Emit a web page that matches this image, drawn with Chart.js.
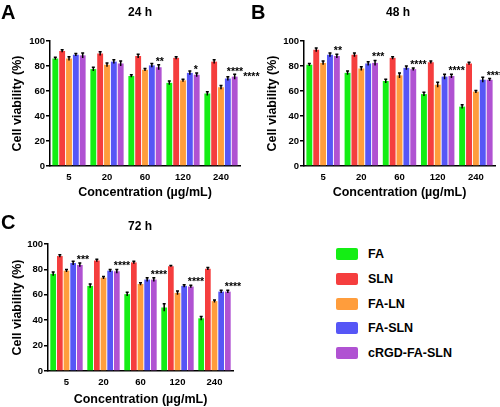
<!DOCTYPE html>
<html>
<head>
<meta charset="utf-8">
<script src="https://cdn.jsdelivr.net/npm/chart.js@4.4.0/dist/chart.umd.min.js"></script>
<style>
  body { margin: 0; background: #fff; font-family: "Liberation Sans", Arial, sans-serif; }
  #wrap { position: relative; width: 500px; height: 407px; overflow: hidden; }
  canvas { position: absolute; }
  .panel { position: absolute; font-weight: bold; font-size: 20px; color: #000; }
  .ttl { position: absolute; font-weight: bold; font-size: 12px; color: #000; transform: translate(-50%, -50%); white-space: nowrap; }
  .lg { position: absolute; left: 336px; width: 22px; height: 12px; border-radius: 2px; }
  .lgt { position: absolute; left: 368px; font-weight: bold; font-size: 12.5px; color: #000; transform: translateY(-50%); }
</style>
</head>
<body>
<div id="wrap">
  <canvas id="c72" width="250" height="207" style="left:0;top:200px"></canvas>
  <canvas id="c48" width="250" height="200" style="left:250px;top:0"></canvas>
  <canvas id="c24" width="260" height="200" style="left:0;top:0"></canvas>
  <div class="panel" style="left:1px;top:1px">A</div>
  <div class="panel" style="left:251px;top:1px">B</div>
  <div class="panel" style="left:1px;top:211px">C</div>
  <div class="ttl" style="left:140px;top:12px">24 h</div>
  <div class="ttl" style="left:398px;top:12px">48 h</div>
  <div class="ttl" style="left:140px;top:226px">72 h</div>
  <div id="legend"></div>
</div>
<script>
const labels = ["5", "20", "60", "120", "240"];
const series = ["FA", "SLN", "FA-LN", "FA-SLN", "cRGD-FA-SLN"];
const colors = ["#14ee14", "#f53e3e", "#ff9d3c", "#5656f6", "#b052d2"];

// rows follow series order
const values24 = [
  [86, 77.5, 72, 66.5, 58],
  [92, 90, 88, 86.5, 83.5],
  [86, 81, 77, 68.5, 63],
  [89, 83.5, 80.5, 74.5, 70],
  [88.5, 82, 79, 73, 71.5]
];
const errors24 = [
  [1, 1.5, 1, 1.5, 1.5],
  [1, 1.5, 1.5, 1, 1.5],
  [1.5, 1.5, 1, 1, 1.5],
  [1, 1.5, 1.5, 1.5, 1.5],
  [2, 2, 2, 1.5, 2]
];
const stars24 = ["", "", "**", "*", "****"];
const starsFASLN24 = ["", "", "", "", "****"];

const values48 = [
  [81, 74.5, 68, 57.5, 47.5],
  [93, 89, 86.5, 83, 82],
  [82.5, 78, 72.5, 65, 59.5],
  [89, 82, 78.5, 71.5, 69],
  [88, 82.5, 77.5, 72, 69]
];
const errors48 = [
  [1, 1.5, 1.5, 1.5, 1.5],
  [1.5, 1.5, 1, 1, 1],
  [1.5, 1.5, 2, 2, 1],
  [1.5, 1.5, 1.5, 2, 2],
  [1.5, 2, 1, 1.5, 1]
];
const stars48 = ["**", "***", "****", "****", "****"];
const starsFASLN48 = ["", "", "", "", ""];

const values72 = [
  [76.5, 67, 60.5, 50, 41.5],
  [90.5, 87, 85.5, 82.5, 80.5],
  [79, 73.5, 68.5, 61.5, 55],
  [85, 79, 72, 67, 62.5],
  [83.5, 78.5, 72, 66.5, 62.5]
];
const errors72 = [
  [1.5, 1.5, 1.5, 3, 1.5],
  [1, 1, 1, 0.5, 1],
  [1, 1, 1, 1.5, 1],
  [1.5, 1, 1.5, 1, 1],
  [1.5, 1.5, 1.5, 1, 1]
];
const stars72 = ["***", "****", "****", "****", "****"];
const starsFASLN72 = ["", "", "", "", ""];

const yTicks = [0, 20, 40, 60, 80, 100];

const FONT = "'Liberation Sans', Arial, sans-serif";

// error bars + significance marks
const barExtras = {
  id: "barExtras",
  afterDatasetsDraw(chart, args, opts) {
    const ctx = chart.ctx;
    const ys = chart.scales.y;
    ctx.save();
    ctx.strokeStyle = "#000";
    ctx.lineWidth = 1.5;
    const tops = [];
    chart.data.datasets.forEach((ds, i) => {
      const meta = chart.getDatasetMeta(i);
      tops[i] = [];
      meta.data.forEach((bar, j) => {
        const hi = ys.getPixelForValue(ds.data[j] + ds.errors[j]);
        const lo = ys.getPixelForValue(ds.data[j] - ds.errors[j]);
        tops[i][j] = { x: bar.x, y: hi };
        ctx.beginPath();
        ctx.moveTo(bar.x, lo);
        ctx.lineTo(bar.x, hi);
        ctx.moveTo(bar.x - 1.5, hi);
        ctx.lineTo(bar.x + 1.5, hi);
        ctx.stroke();
      });
    });
    ctx.fillStyle = "#000";
    ctx.font = "bold 10.5px " + FONT;
    ctx.textAlign = "left";
    ctx.textBaseline = "alphabetic";
    labels.forEach((l, j) => {
      const s1 = opts.starsFASLN[j];
      const s2 = opts.stars[j];
      if (s1) {
        const t = tops[3][j];
        ctx.fillText(s1, t.x - 1, t.y - 2);
        if (s2) {
          const t2 = tops[4][j];
          ctx.fillText(s2, t.x - 1 + ctx.measureText(s1).width, t2.y + 6);
        }
      } else if (s2) {
        const t2 = tops[4][j];
        ctx.fillText(s2, t2.x - 3, t2.y);
      }
    });
    ctx.restore();
  }
};

function makeChart(id, values, errors, stars, starsFASLN, pad, yWidth, xHeight) {
  const datasets = series.map((name, i) => ({
    label: name,
    data: values[i],
    errors: errors[i],
    backgroundColor: colors[i],
    borderWidth: 0,
    categoryPercentage: 0.9,
    barPercentage: 0.86
  }));
  return new Chart(document.getElementById(id), {
    type: "bar",
    data: { labels, datasets },
    plugins: [barExtras],
    options: {
      responsive: false,
      animation: false,
      events: [],
      layout: { padding: pad },
      plugins: {
        legend: { display: false },
        tooltip: { enabled: false },
        barExtras: { stars, starsFASLN }
      },
      scales: {
        x: {
          grid: { display: false, drawTicks: false },
          border: { display: true, color: "#000", width: 1.5 },
          ticks: { color: "#000", padding: 6, font: { family: FONT, size: 9.5, weight: "bold" } },
          title: {
            display: true, text: "Concentration (µg/mL)", color: "#000", padding: 0,
            font: { family: FONT, size: 12.5, weight: "bold" }
          },
          afterFit: s => { s.height = xHeight; }
        },
        y: {
          min: 0, max: 100,
          afterBuildTicks: s => { s.ticks = yTicks.map(v => ({ value: v })); },
          grid: { drawOnChartArea: false, drawTicks: true, tickLength: 4, color: "#000", lineWidth: 1.5 },
          border: { display: true, color: "#000", width: 1.5 },
          ticks: { color: "#000", padding: 1, font: { family: FONT, size: 9.5, weight: "bold" } },
          title: {
            display: true, text: "Cell viability (%)", color: "#000", padding: 0,
            font: { family: FONT, size: 12.5, weight: "bold" }
          },
          afterFit: s => { s.width = yWidth; }
        }
      }
    }
  });
}

makeChart("c24", values24, errors24, stars24, starsFASLN24, { left: 10.5, top: 41, right: 20, bottom: 0 }, 39.5, 34);
makeChart("c48", values48, errors48, stars48, starsFASLN48, { left: 15.5, top: 41, right: 5, bottom: 0 }, 38.5, 34);
makeChart("c72", values72, errors72, stars72, starsFASLN72, { left: 10.5, top: 44, right: 17, bottom: 0 }, 37.5, 36);

// legend
const lgTops = [248, 273, 298, 322, 347];
const legendEl = document.getElementById("legend");
series.forEach((name, i) => {
  const box = document.createElement("div");
  box.className = "lg";
  box.style.top = lgTops[i] + "px";
  box.style.background = colors[i];
  legendEl.appendChild(box);
  const txt = document.createElement("div");
  txt.className = "lgt";
  txt.style.top = (lgTops[i] + 6) + "px";
  txt.textContent = name;
  legendEl.appendChild(txt);
});
</script>
</body>
</html>
